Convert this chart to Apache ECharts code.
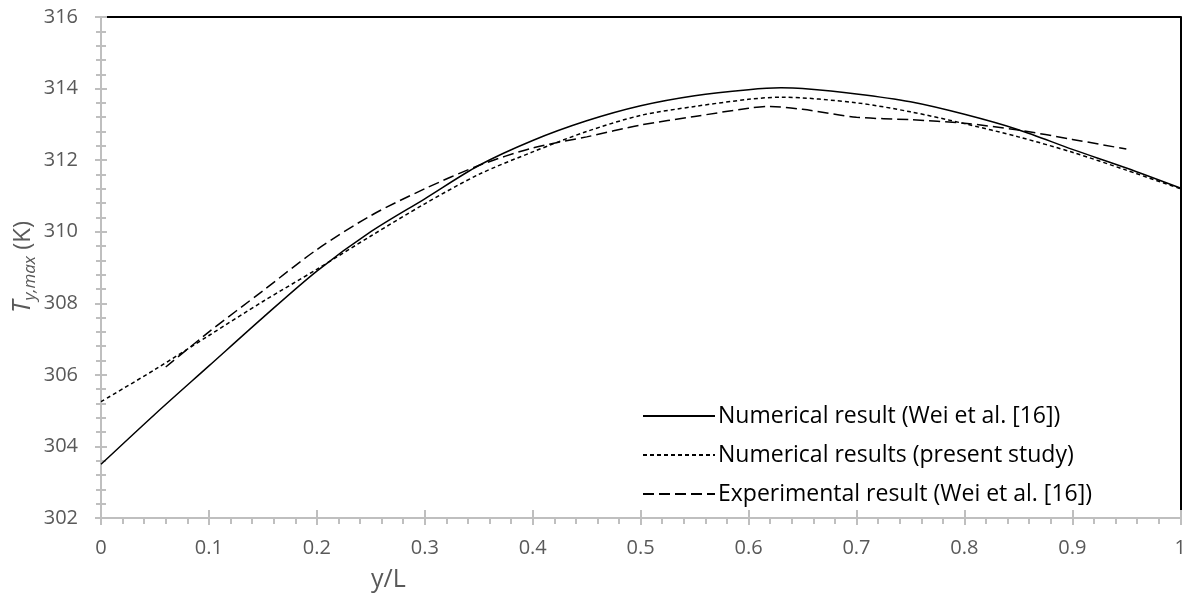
<!DOCTYPE html>
<html>
<head>
<meta charset="utf-8">
<script src="https://cdn.jsdelivr.net/npm/echarts@6/dist/echarts.min.js"></script>
<style>html,body{margin:0;padding:0;background:#fff}#c{width:1189px;height:598px}</style>
</head>
<body>
<div id="c"></div>
<script>
// Data
const seriesNames = ['Numerical result (Wei et al. [16])', 'Numerical results (present study)', 'Experimental result (Wei et al. [16])'];
const xWei = [0, 0.05, 0.1, 0.15, 0.2, 0.25, 0.3, 0.35, 0.4, 0.45, 0.5, 0.55, 0.6, 0.63, 0.65, 0.7, 0.75, 0.8, 0.85, 0.9, 0.95, 1.0];
const tWei = [303.5, 304.9, 306.25, 307.6, 308.9, 310.0, 310.92, 311.85, 312.55, 313.1, 313.52, 313.8, 313.97, 314.02, 314.0, 313.85, 313.63, 313.28, 312.85, 312.3, 311.78, 311.22];
const xPresent = [0, 0.05, 0.1, 0.15, 0.2, 0.25, 0.3, 0.35, 0.4, 0.45, 0.5, 0.55, 0.6, 0.63, 0.7, 0.75, 0.8, 0.85, 0.9, 0.95, 1.0];
const tPresent = [305.25, 306.15, 307.1, 308.05, 308.95, 309.88, 310.78, 311.6, 312.23, 312.8, 313.25, 313.5, 313.7, 313.76, 313.6, 313.35, 313.02, 312.65, 312.22, 311.72, 311.2];
const xExp = [0.06, 0.1, 0.15, 0.2, 0.25, 0.3, 0.35, 0.4, 0.45, 0.5, 0.55, 0.6, 0.62, 0.65, 0.7, 0.75, 0.8, 0.85, 0.9, 0.95];
const tExp = [306.22, 307.2, 308.35, 309.5, 310.45, 311.2, 311.85, 312.34, 312.65, 312.98, 313.22, 313.45, 313.5, 313.42, 313.2, 313.13, 313.03, 312.84, 312.58, 312.31];
const xTicks = [0, 0.1, 0.2, 0.3, 0.4, 0.5, 0.6, 0.7, 0.8, 0.9, 1];
const yTicks = [302, 304, 306, 308, 310, 312, 314, 316];

const pairs = (xs, ys) => xs.map((x, i) => [x, ys[i]]);
const FONT = "'Open Sans', 'Liberation Sans', sans-serif";
const gray = '#bfbfbf';
const labelColor = '#595959';

const chart = echarts.init(document.getElementById('c'), null, {renderer: 'canvas'});
chart.setOption({
  animation: false,
  backgroundColor: '#fff',
  grid: {left: 101, right: 8, top: 17, bottom: 80, containLabel: false},
  xAxis: [{
    type: 'value', min: 0, max: 1, interval: 0.1, position: 'bottom',
    axisLine: {show: true, onZero: false, lineStyle: {color: gray, width: 2}},
    axisTick: {show: true, inside: false, length: 7, lineStyle: {color: gray, width: 2}},
    minorTick: {show: true, splitNumber: 5, length: 6, lineStyle: {color: gray, width: 2}},
    splitLine: {show: false},
    axisLabel: {color: labelColor, fontSize: 20, fontFamily: FONT, margin: 20,
      formatter: v => { const s = xTicks.find(t => Math.abs(t - v) < 1e-9); return s === undefined ? '' : String(s); }}
  }, {
    type: 'value', min: 0, max: 1, interval: 0.1, position: 'bottom',
    axisLine: {show: false},
    axisTick: {show: true, inside: true, length: 8, lineStyle: {color: gray, width: 2}},
    splitLine: {show: false}, axisLabel: {show: false}
  }, {
    type: 'value', min: 0, max: 1, position: 'top',
    axisLine: {show: true, onZero: false, lineStyle: {color: '#000', width: 2}},
    axisTick: {show: false}, splitLine: {show: false}, axisLabel: {show: false}
  }],
  yAxis: [{
    type: 'value', min: 302, max: 316, interval: 2, position: 'left',
    axisLine: {show: true, onZero: false, lineStyle: {color: gray, width: 2}},
    axisTick: {show: true, inside: false, length: 6, lineStyle: {color: gray, width: 2}},
    minorTick: {show: true, splitNumber: 5, length: 5, lineStyle: {color: gray, width: 2}},
    splitLine: {show: false},
    axisLabel: {color: labelColor, fontSize: 20, fontFamily: FONT, margin: 23}
  }, {
    type: 'value', min: 302, max: 316, interval: 2, position: 'left',
    axisLine: {show: false},
    axisTick: {show: true, inside: true, length: 6, lineStyle: {color: gray, width: 2}},
    minorTick: {show: true, splitNumber: 5, length: 5, lineStyle: {color: gray, width: 2}},
    splitLine: {show: false}, axisLabel: {show: false}
  }, {
    type: 'value', min: 302, max: 316, position: 'right',
    axisLine: {show: true, onZero: false, lineStyle: {color: '#000', width: 2}},
    axisTick: {show: false}, splitLine: {show: false}, axisLabel: {show: false}
  }],
  legend: {
    orient: 'vertical', left: 637, top: 397, itemWidth: 72, itemHeight: 14, itemGap: 11,
    data: seriesNames,
    itemStyle: {color: 'rgba(0,0,0,0)', borderWidth: 0, opacity: 0},
    textStyle: {color: '#000', fontSize: 23, lineHeight: 28, fontFamily: FONT, padding: [0, 0, 0, -2]}
  },
  series: [{
    name: seriesNames[0], type: 'line', data: pairs(xWei, tWei), smooth: 0.3,
    symbol: 'none', lineStyle: {color: '#000', width: 1.5, type: 'solid'}, itemStyle: {color: '#000'}
  }, {
    name: seriesNames[1], type: 'line', data: pairs(xPresent, tPresent), smooth: 0.3,
    symbol: 'none', lineStyle: {color: '#000', width: 1.5, type: [4, 3]}, itemStyle: {color: '#000'}
  }, {
    name: seriesNames[2], type: 'line', data: pairs(xExp, tExp), smooth: 0.3,
    symbol: 'none', lineStyle: {color: '#000', width: 1.5, type: [11, 5]}, itemStyle: {color: '#000'}
  }],
  graphic: [{
    type: 'text', left: 371, top: 567,
    style: {text: 'y/L', fontSize: 25, fontFamily: FONT, fill: labelColor}
  }, {
    type: 'text', x: 23, y: 267, rotation: Math.PI / 2,
    style: {
      text: '{t|T}{s|y,max}{n| (K)}', align: 'center', verticalAlign: 'middle',
      rich: {
        t: {fontSize: 25, fontStyle: 'italic', fontFamily: FONT, fill: labelColor, lineHeight: 32, verticalAlign: 'middle'},
        s: {fontSize: 17, fontStyle: 'italic', fontFamily: FONT, fill: labelColor, lineHeight: 17, verticalAlign: 'bottom'},
        n: {fontSize: 24, fontFamily: FONT, fill: labelColor, lineHeight: 32, verticalAlign: 'middle'}
      }
    }
  }]
});
</script>
</body>
</html>
